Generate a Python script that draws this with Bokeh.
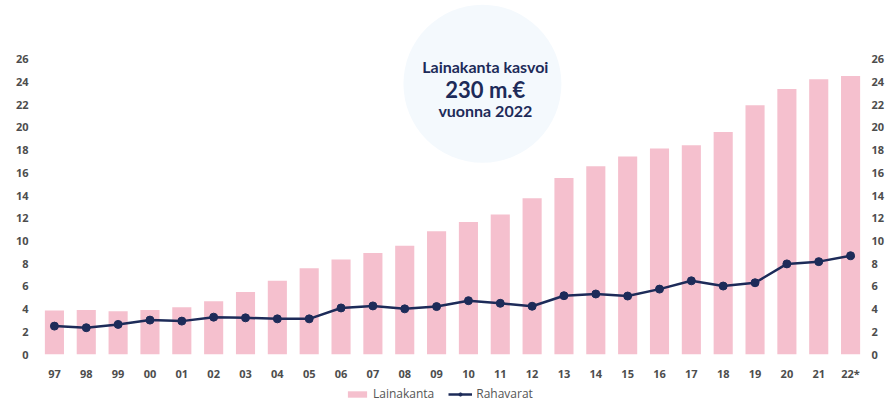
from bokeh.plotting import figure
from bokeh.layouts import column
from bokeh.models import (ColumnDataSource, FactorRange, Range1d, LinearAxis,
                          FixedTicker, Legend, LegendItem)
from bokeh.transform import dodge
from bokeh.core.properties import value
from bokeh.embed import file_html
from bokeh.resources import INLINE

# ---- data -------------------------------------------------------------
years = ["97", "98", "99", "00", "01", "02", "03", "04", "05", "06", "07", "08", "09",
         "10", "11", "12", "13", "14", "15", "16", "17", "18", "19", "20", "21", "22*"]
lainakanta = [3.87, 3.93, 3.82, 3.93, 4.17, 4.69, 5.50, 6.49, 7.60, 8.36, 8.93, 9.58, 10.86,
              11.68, 12.34, 13.77, 15.55, 16.57, 17.44, 18.14, 18.43, 19.59, 21.95, 23.38,
              24.25, 24.54]
rahavarat = [2.50, 2.36, 2.65, 3.03, 2.94, 3.29, 3.23, 3.14, 3.14, 4.10, 4.28, 4.02, 4.22,
             4.74, 4.51, 4.25, 5.18, 5.33, 5.15, 5.76, 6.49, 6.03, 6.32, 7.98, 8.18, 8.70]
y_ticks = [0, 2, 4, 6, 8, 10, 12, 14, 16, 18, 20, 22, 24, 26]
series_names = ["Lainakanta", "Rahavarat"]
callout_lines = ["Lainakanta kasvoi", "230 m.€", "vuonna 2022"]

# ---- styling ----------------------------------------------------------
PINK = "#f5c0ce"
NAVY = "#1d2b59"
TICK_COLOR = "#4d4d4d"
FONT = "Open Sans"

src = ColumnDataSource(dict(year=years, lainakanta=lainakanta, rahavarat=rahavarat))

p = figure(width=890, height=383, x_range=FactorRange(factors=years),
           y_range=Range1d(0, 31.18), output_backend="svg", toolbar_location=None,
           min_border_left=38, min_border_right=24, min_border_top=0, min_border_bottom=26)
p.outline_line_color = None
p.grid.visible = False
p.background_fill_color = "white"

# callout bubble (annotation)
bubble = ColumnDataSource(dict(x=["10"], y=[23.84]))
p.scatter(x=dodge("x", 0.44, range=p.x_range), y="y", source=bubble, size=158,
          marker="circle", fill_color="#f4f9fd", line_color=None)

bar_style = dict(fill_color=PINK, line_color=None)
line_style = dict(line_color=NAVY, line_width=2.5)
dot_style = dict(size=8, marker="circle", fill_color=NAVY, line_color=NAVY)

p.vbar(x="year", top="lainakanta", width=0.6, source=src, **bar_style)
p.line(x="year", y="rahavarat", source=src, **line_style)
p.scatter(x="year", y="rahavarat", source=src, **dot_style)

# callout text
txt = ColumnDataSource(dict(x=["10"] * 3, y=[25.41, 23.32, 21.48], t=callout_lines,
                            fs=["16px", "22px", "16px"]))
p.text(x=dodge("x", 0.53, range=p.x_range), y="y", text="t", source=txt,
       text_font=value("Lato"), text_font_style="bold", text_font_size="fs",
       text_color=NAVY, text_align="center", text_baseline="middle")

# axes
p.yaxis.ticker = FixedTicker(ticks=y_ticks)
p.yaxis.major_label_standoff = 10
right = LinearAxis(ticker=FixedTicker(ticks=y_ticks), major_label_standoff=5)
p.add_layout(right, "right")

for ax in p.xaxis + p.yaxis + [right]:
    ax.axis_line_color = None
    ax.major_tick_line_color = None
    ax.minor_tick_line_color = None
    ax.major_tick_out = 0
    ax.major_tick_in = 0
    ax.major_label_text_font = FONT
    ax.major_label_text_font_style = "bold"
    ax.major_label_text_font_size = "11px"
    ax.major_label_text_color = TICK_COLOR
p.xaxis.major_label_standoff = 11

# ---- legend strip below the chart (proxy glyphs lie outside its range) ----
lg = figure(width=890, height=29, output_backend="svg", toolbar_location=None,
            x_range=Range1d(0, 1), y_range=Range1d(0, 1),
            x_axis_location=None, y_axis_location=None,
            min_border_left=0, min_border_right=0, min_border_top=0, min_border_bottom=0)
lg.outline_line_color = None
lg.grid.visible = False
proxy = ColumnDataSource(dict(x=[-5.0], top=[-5.0], y=[-5.0]))
r_bar = lg.vbar(x="x", top="top", bottom=-6, width=0.1, source=proxy, **bar_style)
r_line = lg.line(x="x", y="y", source=proxy, **line_style)
r_dot = lg.scatter(x="x", y="y", source=proxy, **dot_style)

legend = Legend(items=[LegendItem(label=series_names[0], renderers=[r_bar]),
                       LegendItem(label=series_names[1], renderers=[r_line, r_dot])],
                orientation="horizontal", location=(307, 10), margin=0, padding=2,
                spacing=14, glyph_width=24, glyph_height=8, label_standoff=4,
                label_height=14, label_text_font=FONT, label_text_font_size="12px",
                label_text_color="#555555", border_line_color=None,
                background_fill_alpha=0)
lg.add_layout(legend, "center")

layout = column(p, lg, spacing=0)
open("out.html", "w").write(file_html(layout, INLINE))
